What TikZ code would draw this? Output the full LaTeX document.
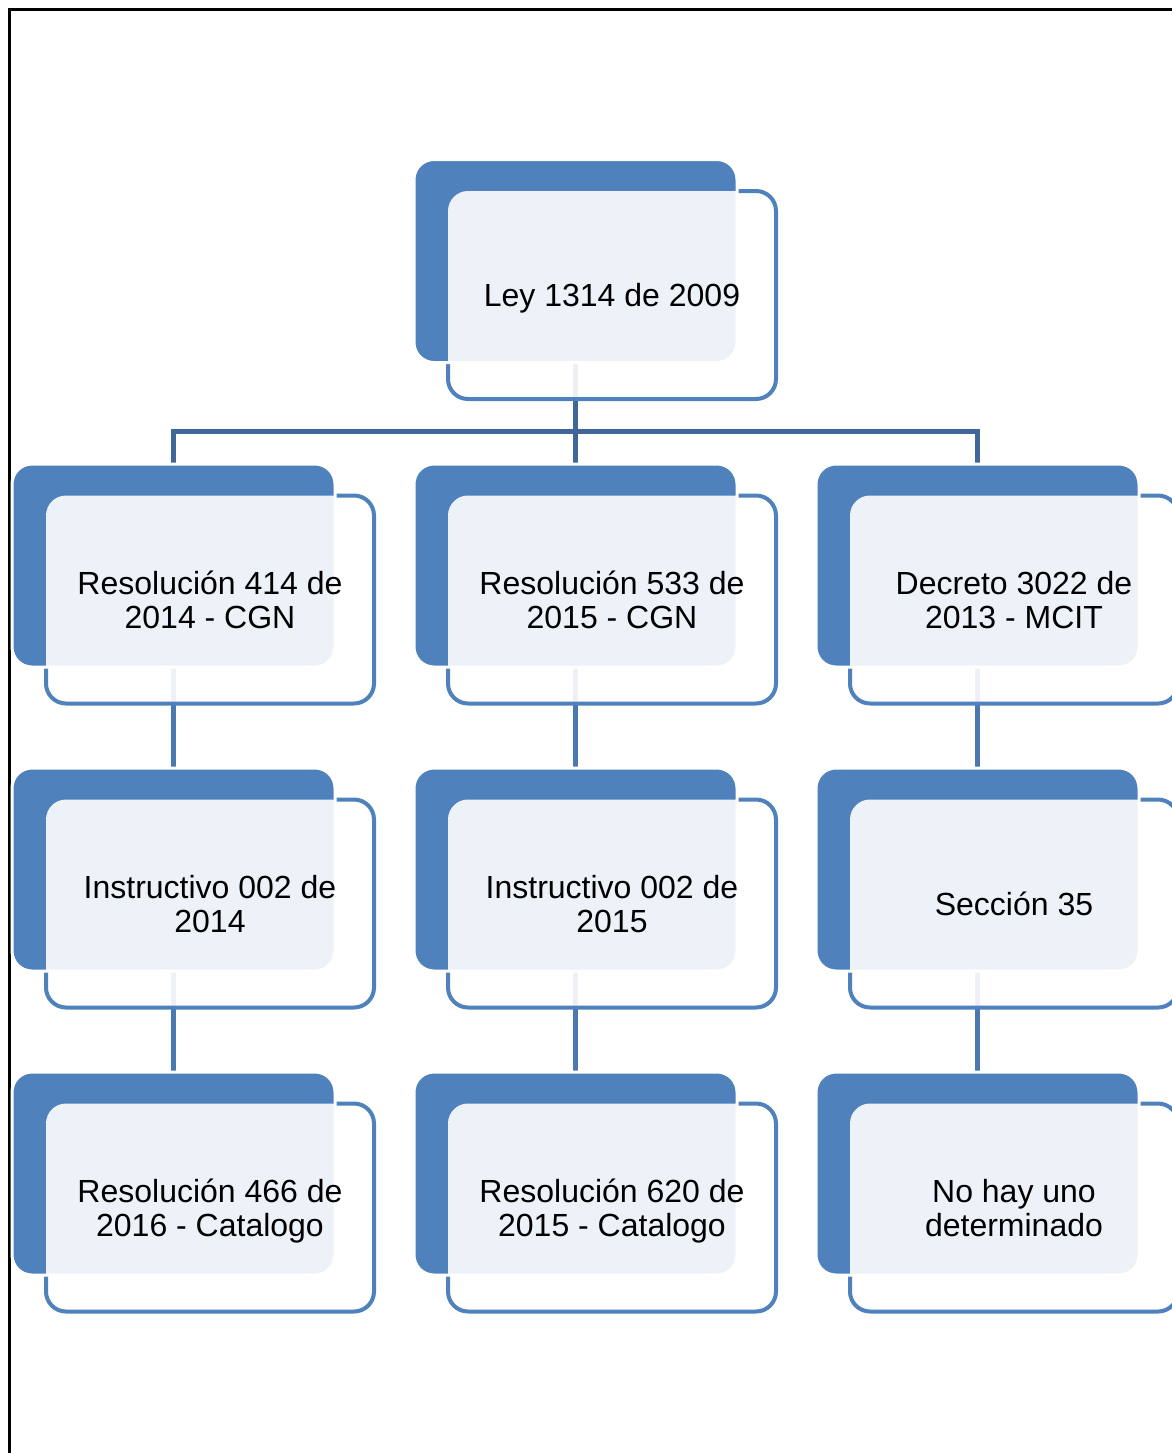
\documentclass[tikz,border=0pt]{standalone}
\usepackage{fontspec}
\setmainfont{Liberation Sans}
\usetikzlibrary{backgrounds}

\definecolor{boxblue}{HTML}{4F81BD}
\definecolor{linkblue}{HTML}{41679A}
\definecolor{chainblue}{HTML}{4A78B2}

% one entry: back tile, outlined card, tinted overlap, text
\newcommand{\normabox}[4]{%
  \path (#2,#3) coordinate (#1-c) ++(36.5,34) node[frontcard] (#1-f) {};
  \node[backtile] (#1) at (#1-c) {};
  \begin{scope}
    \clip[rounded corners=10pt] (#1.south west) rectangle (#1.north east);
    \fill[white, fill opacity=0.9, rounded corners=10pt] (#1-f.south west) rectangle (#1-f.north east);
  \end{scope}
  \node[cardtext] at (#1-f) {#4};
}

\begin{document}
\begin{tikzpicture}[x=0.5pt, y=-0.5pt,
    backtile/.style={rectangle, rounded corners=10pt, fill=boxblue, draw=white, line width=1.5pt,
      minimum width=161.5pt, minimum height=101.5pt, inner sep=0pt, outer sep=0pt},
    frontcard/.style={rectangle, rounded corners=10pt, fill=white, fill opacity=0.9, draw=boxblue,
      draw opacity=1, line width=2pt, minimum width=164pt, minimum height=104pt, inner sep=0pt, outer sep=0pt},
    cardtext/.style={font=\fontsize{16pt}{17pt}\selectfont, align=center, inner sep=0pt, text depth=0pt},
    treelink/.style={draw=linkblue, line width=2.5pt},
    chainlink/.style={draw=chainblue, line width=2.5pt}]
  \useasboundingbox (0,0) rectangle (1172,1453);

  % top
  \normabox{ley}{575.5}{261}{Ley 1314 de 2009}
  % first row
  \normabox{r414}{173.5}{565.5}{Resolución 414 de\\2014 - CGN}
  \normabox{r533}{575.5}{565.5}{Resolución 533 de\\2015 - CGN}
  \normabox{d3022}{977.5}{565.5}{Decreto 3022 de\\2013 - MCIT}
  % second row
  \normabox{i2014}{173.5}{869.5}{Instructivo 002 de\\2014}
  \normabox{i2015}{575.5}{869.5}{Instructivo 002 de\\2015}
  \normabox{s35}{977.5}{869.5}{Sección 35}
  % third row
  \normabox{r466}{173.5}{1173.5}{Resolución 466 de\\2016 - Catalogo}
  \normabox{r620}{575.5}{1173.5}{Resolución 620 de\\2015 - Catalogo}
  \normabox{nohay}{977.5}{1173.5}{No hay uno\\determinado}

  \begin{scope}[on background layer]
    % page frame
    \draw[line width=1.5pt] (9,1470) |- (1190,9);
    % links
    \coordinate (bus) at (575.5,431);
    \draw[treelink] (ley.south) -- (r533.north);
    \draw[treelink] (r414.north) |- (bus) -| (d3022.north);
    \draw[chainlink] (r414.south) -- (i2014.north);
    \draw[chainlink] (i2014.south) -- (r466.north);
    \draw[chainlink] (r533.south) -- (i2015.north);
    \draw[chainlink] (i2015.south) -- (r620.north);
    \draw[chainlink] (d3022.south) -- (s35.north);
    \draw[chainlink] (s35.south) -- (nohay.north);
  \end{scope}
\end{tikzpicture}
\end{document}
